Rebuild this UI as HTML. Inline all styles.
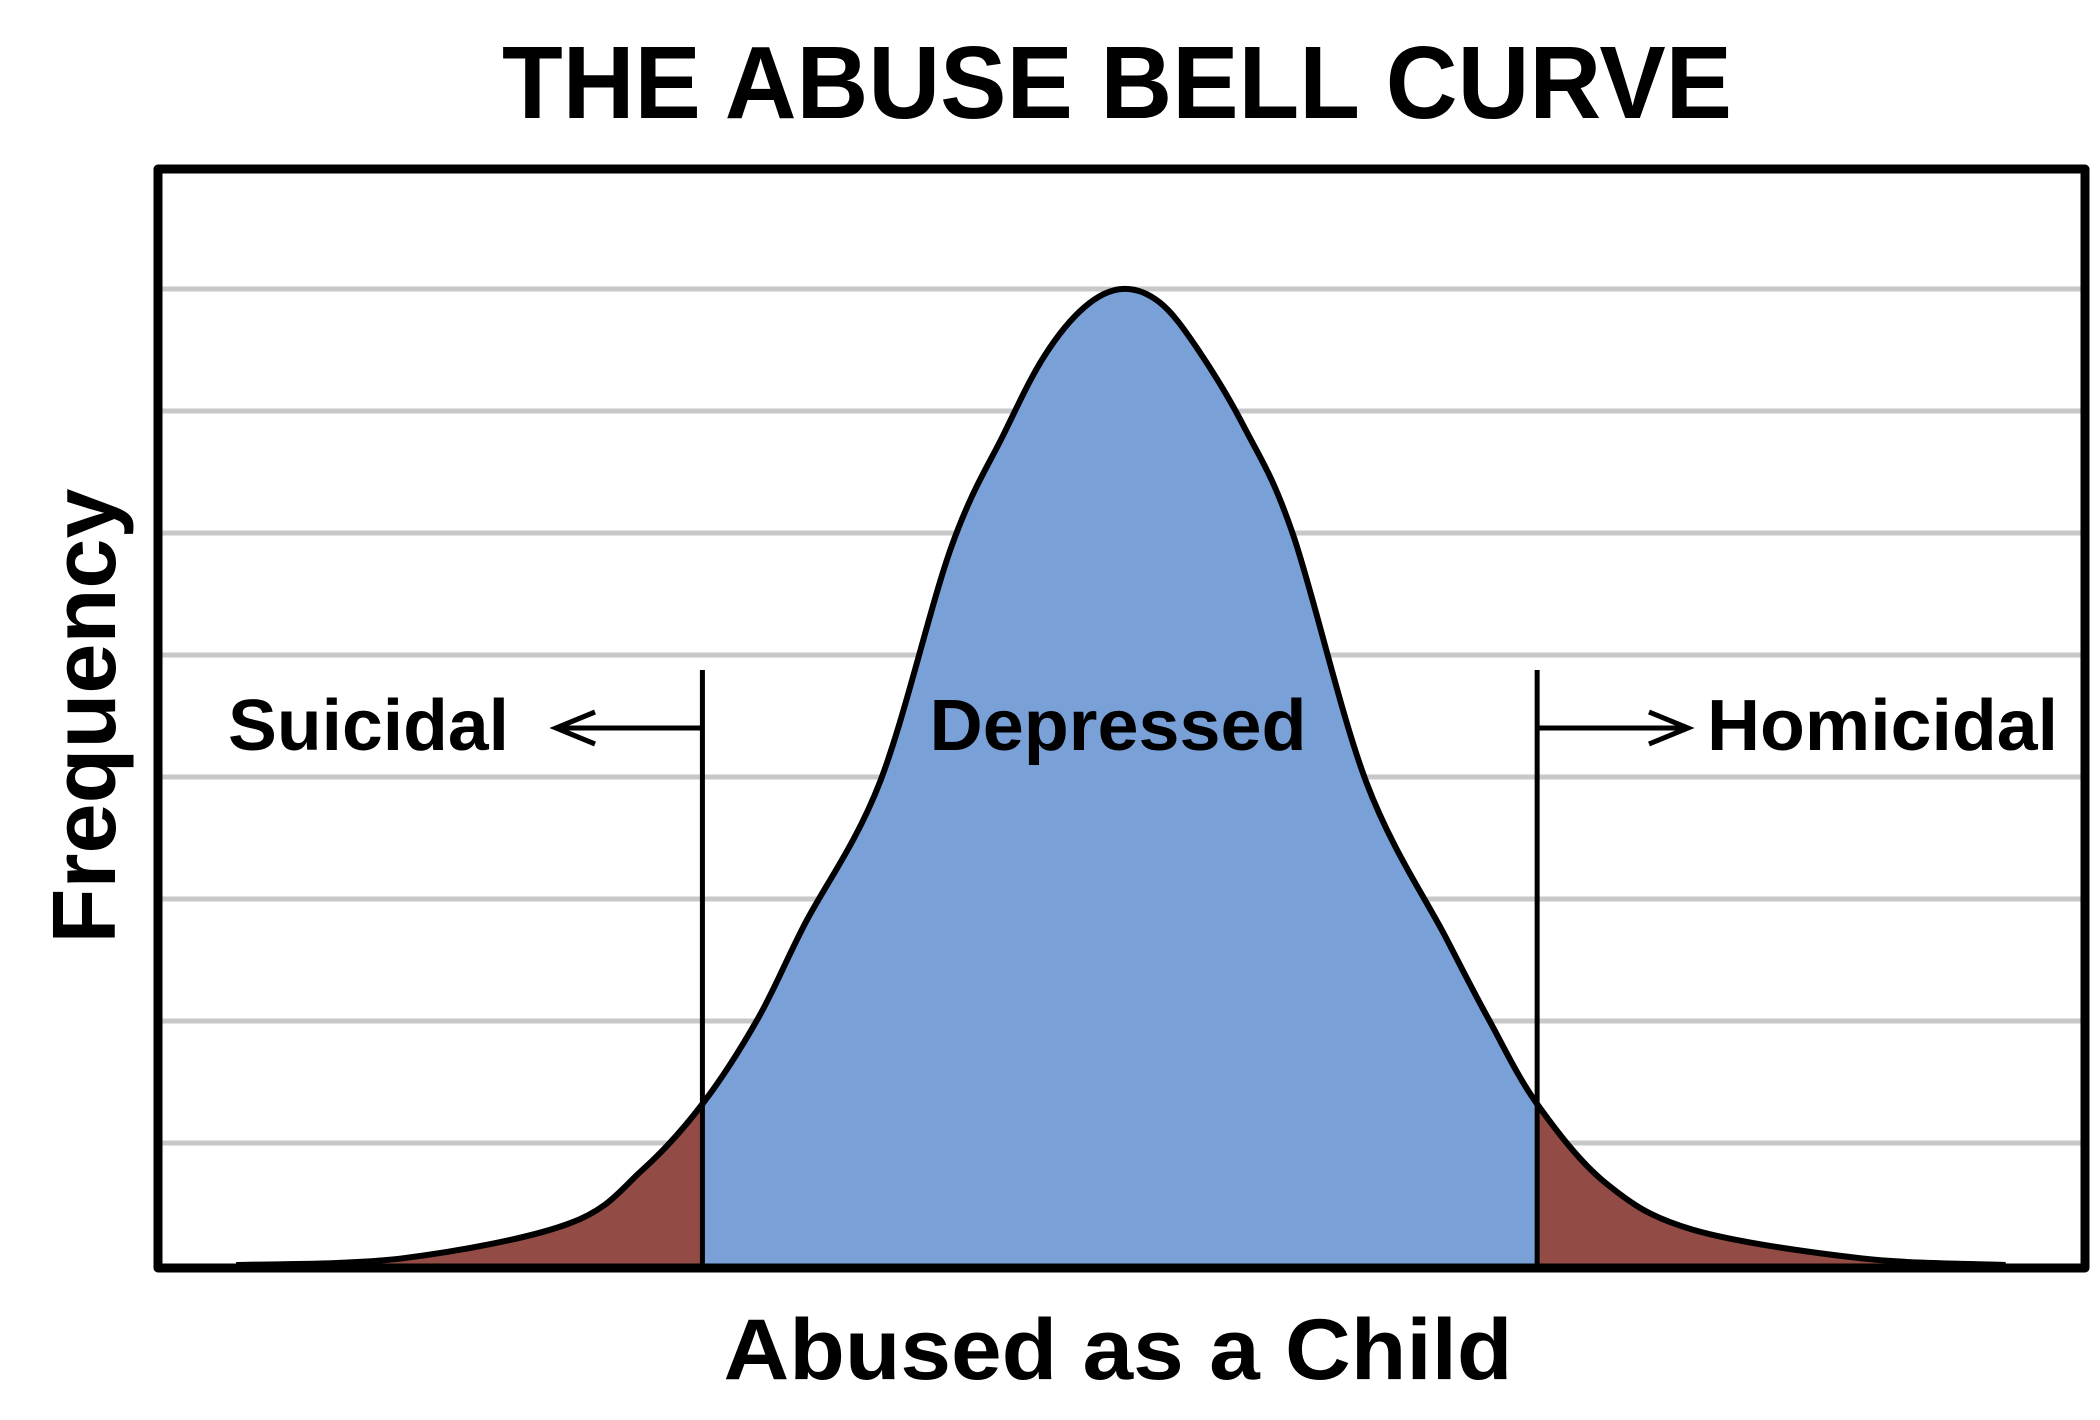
<!DOCTYPE html>
<html><head><meta charset="utf-8"><style>
html,body{margin:0;padding:0;background:#fff;}
svg{display:block;}
text{font-family:"Liberation Sans",Arial,sans-serif;font-weight:bold;fill:#000;}
</style></head><body>
<svg id="chart" width="2100" height="1420" viewBox="0 0 2100 1420">
  <rect x="0" y="0" width="2100" height="1420" fill="#fff"/>
  <text x="1117" y="118" font-size="103" text-anchor="middle" textLength="1230" lengthAdjust="spacingAndGlyphs">THE ABUSE BELL CURVE</text>
  <g id="grid"></g>
  <defs>
    <clipPath id="clipMid"><rect id="midRect" x="0" y="0" width="0" height="1420"/></clipPath>
    <clipPath id="clipLeft"><rect id="leftRect" x="0" y="0" width="0" height="1420"/></clipPath>
    <clipPath id="clipRight"><rect id="rightRect" x="0" y="0" width="2100" height="1420"/></clipPath>
  </defs>
  <g id="marks"></g>
  <rect x="158" y="169" width="1927" height="1099" fill="none" stroke="#000" stroke-width="9" stroke-linejoin="round"/>
  <text x="228" y="750" font-size="72" textLength="281" lengthAdjust="spacingAndGlyphs">Suicidal</text>
  <text x="1118" y="750" font-size="72" text-anchor="middle" textLength="377" lengthAdjust="spacingAndGlyphs">Depressed</text>
  <text x="1707" y="750" font-size="72" textLength="351" lengthAdjust="spacingAndGlyphs">Homicidal</text>
  <g stroke="#000" stroke-width="5" fill="none">
    <path d="M702 728 H560 M595 712 L556 728 L595 744"/>
    <path d="M1537 728 H1684 M1649 712 L1688 728 L1649 744"/>
  </g>
  <text x="0" y="0" font-size="90" text-anchor="middle" textLength="455" lengthAdjust="spacingAndGlyphs" transform="translate(115 716) rotate(-90)">Frequency</text>
  <text x="1118" y="1379" font-size="86" text-anchor="middle" textLength="789" lengthAdjust="spacingAndGlyphs">Abused as a Child</text>
</svg>
<script>
const xValues = [-3.99,-3.24,-2.49,-2.16,-1.89,-1.64,-1.43,-1.09,-0.77,-0.53,-0.35,-0.17,0,0.17,0.34,0.55,0.77,1.10,1.46,1.65,1.87,2.18,2.57,3.33,3.98];
const freqValues = [0,0.055,0.34,0.78,1.32,2.02,2.79,3.96,5.88,6.82,7.45,7.85,8.0,7.89,7.51,6.87,5.99,3.96,2.68,2.02,1.32,0.67,0.29,0.055,0];
const gridTicks = [1,2,3,4,5,6,7,8];
const cutoffs = [-1.89, 1.87];

function xs(v){ return 1122 + v*222; }
function ys(v){ return 1265 - v*122; }
const NS = 'http://www.w3.org/2000/svg';
const grid = document.getElementById('grid');
gridTicks.forEach(t=>{
  const l = document.createElementNS(NS,'line');
  l.setAttribute('x1',162); l.setAttribute('x2',2081);
  l.setAttribute('y1',ys(t)); l.setAttribute('y2',ys(t));
  l.setAttribute('stroke','#c8c8c8'); l.setAttribute('stroke-width','5');
  
  
  grid.appendChild(l);
});
const pts = xValues.map((x,i)=>[xs(x), ys(freqValues[i])]);
let d = 'M'+pts[0][0]+' '+pts[0][1];
for(let i=0;i<pts.length-1;i++){
  const p0=pts[Math.max(0,i-1)], p1=pts[i], p2=pts[i+1], p3=pts[Math.min(pts.length-1,i+2)];
  const c1=[p1[0]+(p2[0]-p0[0])/6, p1[1]+(p2[1]-p0[1])/6];
  const c2=[p2[0]-(p3[0]-p1[0])/6, p2[1]-(p3[1]-p1[1])/6];
  d += ' C'+c1[0].toFixed(1)+' '+c1[1].toFixed(1)+' '+c2[0].toFixed(1)+' '+c2[1].toFixed(1)+' '+p2[0].toFixed(1)+' '+p2[1].toFixed(1);
}
const area = d + ' L'+pts[pts.length-1][0]+' '+ys(0)+' L'+pts[0][0]+' '+ys(0)+' Z';
const cl = xs(cutoffs[0]), cr = xs(cutoffs[1]);
document.getElementById('leftRect').setAttribute('width', cl);
const mr = document.getElementById('midRect'); mr.setAttribute('x', cl); mr.setAttribute('width', cr-cl);
document.getElementById('rightRect').setAttribute('x', cr);
const marks = document.getElementById('marks');
[['clipLeft','#934c45','suicidal-area'],['clipMid','#7aa0d8','depressed-area'],['clipRight','#934c45','homicidal-area']].forEach(a=>{
  const p=document.createElementNS(NS,'path');
  p.setAttribute('d',area); p.setAttribute('fill',a[1]); p.setAttribute('clip-path','url(#'+a[0]+')');
  
  
  marks.appendChild(p);
});
const c=document.createElementNS(NS,'path');
c.setAttribute('d',d); c.setAttribute('fill','none'); c.setAttribute('stroke','#000'); c.setAttribute('stroke-width','6');


marks.appendChild(c);
cutoffs.forEach((v,i)=>{
  const l=document.createElementNS(NS,'line');
  l.setAttribute('x1',xs(v)); l.setAttribute('x2',xs(v)); l.setAttribute('y1',670); l.setAttribute('y2',1266);
  l.setAttribute('stroke','#000'); l.setAttribute('stroke-width','5');
  
  
  marks.appendChild(l);
});
</script>
</body></html>
